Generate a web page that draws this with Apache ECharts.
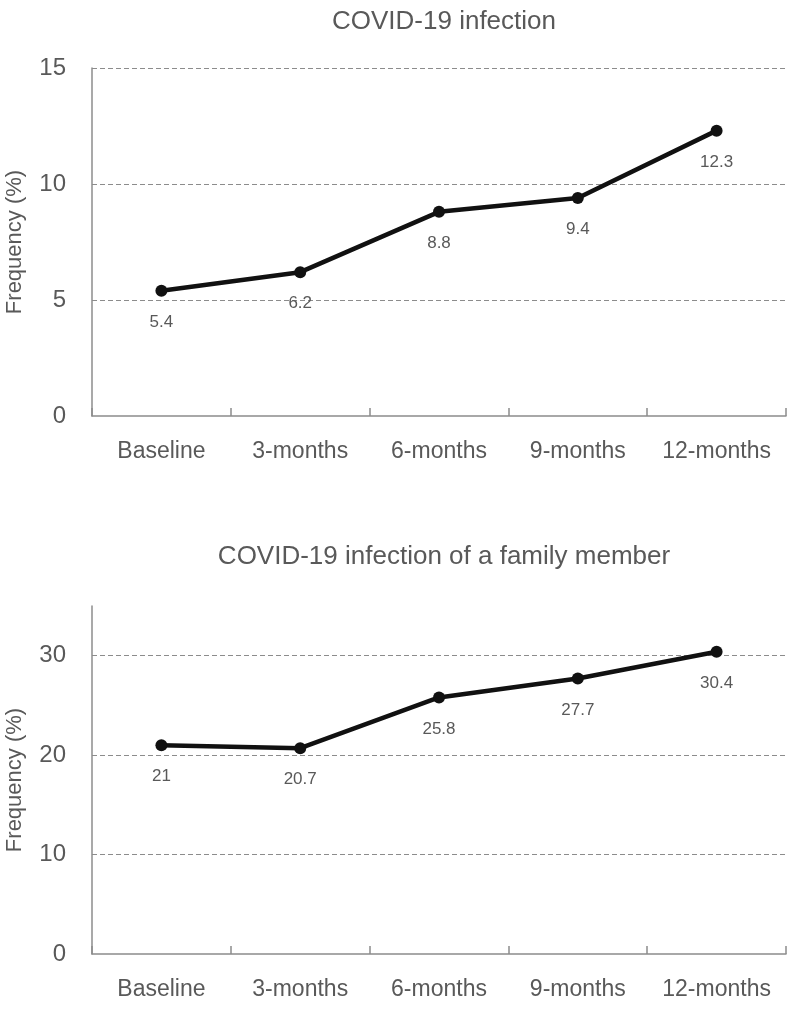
<!DOCTYPE html>
<html>
<head>
<meta charset="utf-8">
<script src="https://cdn.jsdelivr.net/npm/echarts@6/dist/echarts.min.js"></script>
<style>
  html, body { margin: 0; padding: 0; background: #fff; }
  #chart { width: 787px; height: 1009px; }
</style>
</head>
<body>
<div id="chart"></div>
<script>
var categories = ['Baseline', '3-months', '6-months', '9-months', '12-months']
var infection = [5.4, 6.2, 8.8, 9.4, 12.3]
var familyInfection = [21, 20.7, 25.8, 27.7, 30.4]
var titles = ['COVID-19 infection', 'COVID-19 infection of a family member']

var gray = '#595959'
var font = 'Liberation Sans'

function xAxis(gridIndex) {
  return {
    type: 'category',
    gridIndex: gridIndex,
    data: categories,
    boundaryGap: true,
    axisLine: { lineStyle: { color: '#8c8c8c', width: 1.5 } },
    axisTick: { show: true, inside: true, interval: 0, length: 8, lineStyle: { color: '#8c8c8c', width: 1.5 } },
    axisLabel: { color: gray, fontSize: 23, fontFamily: font, margin: 24, interval: 0, hideOverlap: false },
    splitLine: { show: false }
  }
}

function yAxis(gridIndex, max, showMax) {
  return {
    type: 'value',
    gridIndex: gridIndex,
    min: 0,
    max: max,
    interval: gridIndex === 0 ? 5 : 10,
    name: 'Frequency (%)',
    nameLocation: 'middle',
    nameGap: 66,
    nameTextStyle: { color: gray, fontSize: 22, fontFamily: font },
    axisLine: { show: true, lineStyle: { color: '#8c8c8c', width: 1.5 } },
    axisTick: { show: false },
    axisLabel: { color: gray, fontSize: 24, fontFamily: font, margin: 26, showMaxLabel: showMax },
    splitLine: {
      show: true,
      showMinLine: false,
      showMaxLine: showMax,
      lineStyle: { color: '#8c8c8c', type: [5, 3], width: 1 }
    }
  }
}

function lineSeries(idx, data) {
  return {
    type: 'line',
    xAxisIndex: idx,
    yAxisIndex: idx,
    data: data,
    symbol: 'circle',
    symbolSize: 12,
    lineStyle: { color: '#111', width: 4.5 },
    itemStyle: { color: '#111' },
    label: {
      show: true,
      position: 'bottom',
      distance: 17,
      color: gray,
      fontSize: 17,
      fontFamily: font
    },
    animation: false
  }
}

var chart = echarts.init(document.getElementById('chart'), null, { renderer: 'canvas' })
chart.setOption({
  backgroundColor: '#fff',
  animation: false,
  title: [
    { text: titles[0], left: 439, top: 4, textAlign: 'center',
      textStyle: { color: gray, fontSize: 26, fontWeight: 'normal', fontFamily: font } },
    { text: titles[1], left: 439, top: 539, textAlign: 'center',
      textStyle: { color: gray, fontSize: 26, fontWeight: 'normal', fontFamily: font } }
  ],
  grid: [
    { left: 92, right: 1, top: 68, height: 348, outerBoundsMode: 'none', containLabel: false },
    { left: 92, right: 1, top: 606, height: 348, outerBoundsMode: 'none', containLabel: false }
  ],
  xAxis: [xAxis(0), xAxis(1)],
  yAxis: [yAxis(0, 15, true), yAxis(1, 35, false)],
  series: [lineSeries(0, infection), lineSeries(1, familyInfection)]
})
</script>
</body>
</html>
